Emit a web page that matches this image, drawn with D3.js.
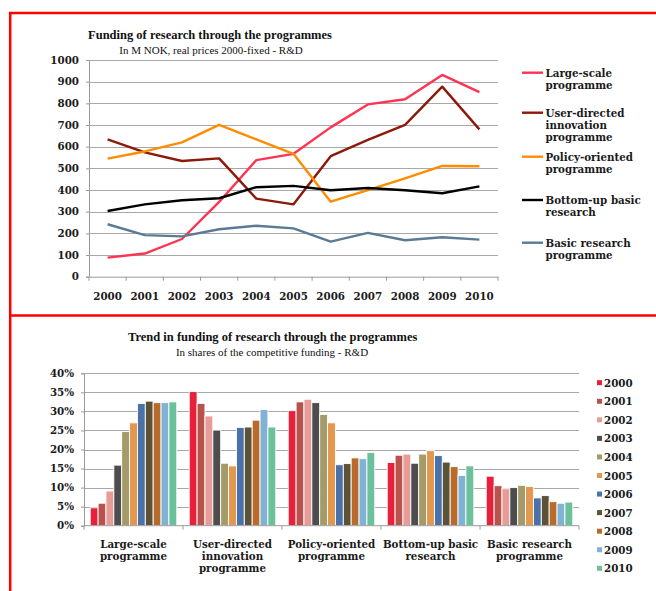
<!DOCTYPE html>
<html><head><meta charset="utf-8">
<script src="https://cdn.jsdelivr.net/npm/d3@7"></script>
<style>
html,body{margin:0;padding:0;background:#fff;}
svg{display:block;}
text{font-family:"DejaVu Serif",serif;}
.lbl{font-weight:bold;font-size:10.3px;fill:#1a1a1a;}
.title{font-family:"Liberation Serif",serif;font-weight:bold;font-size:12.5px;fill:#111;}
.sub{font-family:"Liberation Serif",serif;font-size:11px;fill:#111;}
</style></head>
<body>
<script>
// ---------- DATA ----------
const years = ["2000","2001","2002","2003","2004","2005","2006","2007","2008","2009","2010"];
const programmes = ["Large-scale programme","User-directed innovation programme","Policy-oriented programme","Bottom-up basic research","Basic research programme"];
const programmeLines = [["Large-scale","programme"],["User-directed","innovation","programme"],["Policy-oriented","programme"],["Bottom-up basic","research"],["Basic research","programme"]];
const largeScale    = [88,107,174,345,538,567,689,795,819,931,852];
const userDirected  = [634,574,534,546,360,334,556,631,701,877,680];
const policyOriented= [545,578,620,701,634,567,346,400,454,511,510];
const bottomUp      = [303,334,353,362,413,419,399,409,399,385,417];
const basicResearch = [242,192,186,219,235,223,162,202,168,182,171];
const lineTicks = [0,100,200,300,400,500,600,700,800,900,1000];
// shares (%) per programme, by year
const shareLarge  = [4.7,5.9,9.1,15.9,24.7,27.0,32.1,32.7,32.3,32.3,32.5];
const shareUser   = [35.2,32.1,28.8,25.1,16.4,15.7,25.8,25.9,27.7,30.5,25.9];
const sharePolicy = [30.2,32.5,33.2,32.3,29.2,27.0,16.0,16.3,17.8,17.6,19.2];
const shareBottom = [16.6,18.5,18.8,16.4,18.8,19.7,18.4,16.7,15.5,13.2,15.7];
const shareBasic  = [13.0,10.5,9.7,10.0,10.6,10.3,7.3,7.9,6.3,5.9,6.2];
const shareTicks = [0,5,10,15,20,25,30,35,40];

const lineColors = ["#ff3352","#8b1a0a","#ff8c00","#000000","#5b7a95"];
const yearColors = ["#e8213a","#b9524d","#e89c98","#4d4d4d","#a59a6a","#e3984e","#4a72a8","#5b5237","#b86b2a","#80b2d6","#6bc199"];

const lineSeries = [largeScale,userDirected,policyOriented,bottomUp,basicResearch];
const shareSeries = [shareLarge,shareUser,sharePolicy,shareBottom,shareBasic];

// ---------- SVG ----------
const W=656,H=591;
const svg=d3.select("body").append("svg").attr("width",W).attr("height",H);

// frame
svg.append("rect").attr("x",10.2).attr("y",13).attr("width",W).attr("height",H)
  .attr("fill","none").attr("stroke","#ff0000").attr("stroke-width",2.5);
svg.append("line").attr("x1",10).attr("x2",W).attr("y1",315.5).attr("y2",315.5)
  .attr("stroke","#ff0000").attr("stroke-width",2.5);

// ---------- TOP LINE CHART ----------
const x = d3.scaleBand().domain(years).range([89,498]);
const y = d3.scaleLinear().domain([0,1000]).range([276.7,60]);

svg.append("text").attr("class","title").attr("x",210).attr("y",39).attr("text-anchor","middle")
  .text("Funding of research through the programmes");
svg.append("text").attr("class","sub").attr("x",211).attr("y",54).attr("text-anchor","middle")
  .text("In M NOK, real prices 2000-fixed - R&D");

const gy = svg.append("g").attr("transform","translate(89,0)")
  .call(d3.axisLeft(y).tickValues(lineTicks).tickSize(3).tickFormat(d3.format("d")));
gy.select(".domain").attr("stroke","#9a9a9a");
gy.selectAll(".tick line").attr("stroke","#9a9a9a");
gy.selectAll(".tick text").attr("class","lbl").attr("x",-10).attr("font-family",null).attr("font-size",null);
svg.append("g").selectAll("line").data(lineTicks.slice(1)).join("line")
  .attr("x1",89).attr("x2",498).attr("y1",d=>Math.round(y(d))+0.5).attr("y2",d=>Math.round(y(d))+0.5)
  .attr("stroke","#a8a8a8").attr("stroke-width",1);

const gx = svg.append("g").attr("transform",`translate(0,${y(0)})`)
  .call(d3.axisBottom(x).tickSize(0).tickPadding(16));
gx.select(".domain").attr("stroke","#9a9a9a");
gx.selectAll(".tick text").attr("class","lbl").attr("font-family",null).attr("font-size",null);
svg.append("g").selectAll("line").data(d3.range(years.length+1)).join("line")
  .attr("x1",i=>89+i*x.step()).attr("x2",i=>89+i*x.step())
  .attr("y1",y(0)).attr("y2",y(0)+4).attr("stroke","#9a9a9a");

const line = d3.line().x((d,i)=>x(years[i])+x.bandwidth()/2).y(d=>y(d));
svg.append("g").selectAll("path").data(lineSeries).join("path")
  .attr("d",line).attr("fill","none").attr("stroke",(d,i)=>lineColors[i])
  .attr("stroke-width",2.4).attr("stroke-linejoin","round");

// top legend
const legY=[72.7,112.7,156.7,200,242.7];
const lg = svg.append("g").selectAll("g").data(programmeLines).join("g")
  .attr("transform",(d,i)=>`translate(522,${legY[i]})`);
lg.append("line").attr("x1",0).attr("x2",21).attr("stroke",(d,i)=>lineColors[i]).attr("stroke-width",2.4);
lg.append("text").attr("class","lbl").attr("x",23.5).attr("y",4)
  .selectAll("tspan").data(d=>d).join("tspan").attr("x",23.5).attr("dy",(d,i)=>i?12:0).text(d=>d);

// ---------- BOTTOM BAR CHART ----------
svg.append("text").attr("class","title").attr("x",272.7).attr("y",341).attr("text-anchor","middle")
  .text("Trend in funding of research through the programmes");
svg.append("text").attr("class","sub").attr("x",272).attr("y",356).attr("text-anchor","middle")
  .text("In shares of the competitive funding - R&D");

const x0 = d3.scaleBand().domain(programmes).range([84,579]);
const x1 = d3.scaleBand().domain(years).range([0,x0.bandwidth()]).paddingOuter(0.79);
const y2 = d3.scaleLinear().domain([0,40]).range([525.7,373.3]);

svg.append("g").selectAll("line").data(shareTicks.slice(1)).join("line")
  .attr("x1",84).attr("x2",579).attr("y1",d=>Math.round(y2(d))+0.5).attr("y2",d=>Math.round(y2(d))+0.5)
  .attr("stroke","#a8a8a8").attr("stroke-width",1);
const gy2 = svg.append("g").attr("transform","translate(84,0)")
  .call(d3.axisLeft(y2).tickValues(shareTicks).tickSize(3).tickFormat(d=>d+"%"));
gy2.select(".domain").attr("stroke","#9a9a9a");
gy2.selectAll(".tick line").attr("stroke","#9a9a9a");
gy2.selectAll(".tick text").attr("class","lbl").attr("x",-10).attr("font-family",null).attr("font-size",null);

const groups = svg.append("g").selectAll("g").data(shareSeries).join("g")
  .attr("transform",(d,i)=>`translate(${x0(programmes[i])},0)`);
groups.selectAll("rect").data(d=>d).join("rect")
  .attr("x",(d,i)=>x1(years[i])).attr("width",x1.bandwidth())
  .attr("y",d=>y2(d)).attr("height",d=>y2(0)-y2(d))
  .attr("fill",(d,i)=>yearColors[i]).attr("stroke","#fff").attr("stroke-width",0.9);

svg.append("line").attr("x1",84).attr("x2",579).attr("y1",y2(0)).attr("y2",y2(0)).attr("stroke","#9a9a9a");
svg.append("g").selectAll("line").data(d3.range(programmes.length+1)).join("line")
  .attr("x1",i=>84+i*x0.step()).attr("x2",i=>84+i*x0.step())
  .attr("y1",y2(0)).attr("y2",y2(0)+4).attr("stroke","#9a9a9a");

svg.append("g").selectAll("text").data(programmeLines).join("text")
  .attr("class","lbl").attr("text-anchor","middle").attr("y",548)
  .selectAll("tspan").data((d,i)=>d.map(t=>({t,i}))).join("tspan")
  .attr("x",d=>x0(programmes[d.i])+x0.bandwidth()/2).attr("dy",(d,j)=>j?12:0).text(d=>d.t);

// bottom legend
const lg2 = svg.append("g").selectAll("g").data(years).join("g")
  .attr("transform",(d,i)=>`translate(597,${382.7+i*18.56})`);
lg2.append("rect").attr("x",0).attr("y",-2.5).attr("width",5).attr("height",5).attr("fill",(d,i)=>yearColors[i]);
lg2.append("text").attr("class","lbl").attr("x",7).attr("y",4).text(d=>d);
</script>
</body></html>
